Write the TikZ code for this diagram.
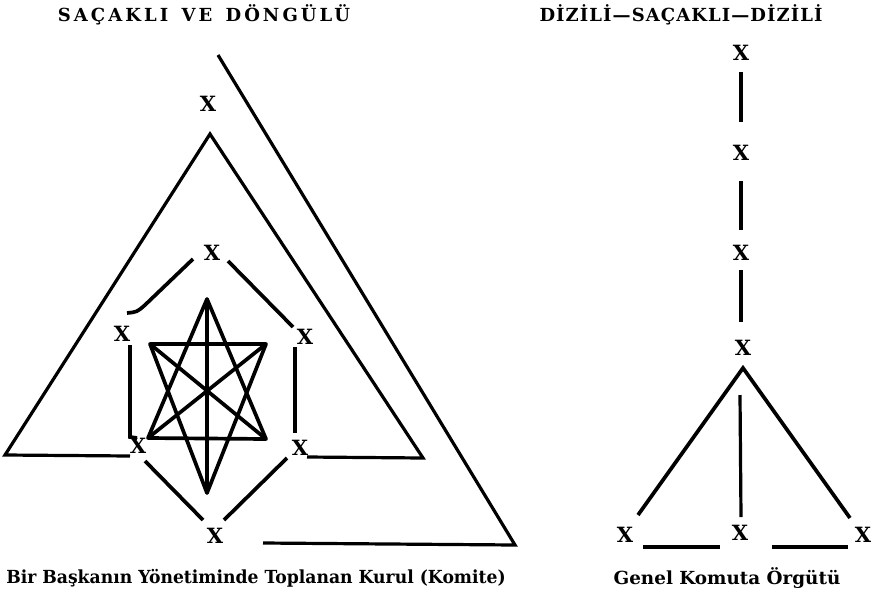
\documentclass[tikz,border=0pt]{standalone}
\usepackage{fontspec}
\setmainfont{DejaVu Serif}
\begin{document}
\begin{tikzpicture}[x=1pt,y=-1pt,
  ln/.style={line width=3.7pt},
  thin/.style={line width=3.2pt},
  xn/.style={font=\bfseries\fontsize{21}{21}\selectfont, inner sep=0pt, anchor=center},
  ttl/.style={font=\bfseries\fontsize{18}{18}\selectfont, inner sep=0pt},
  lbl/.style={font=\bfseries\fontsize{18}{19}\selectfont, inner sep=0pt}]
\useasboundingbox (0,0) rectangle (877,597);
% titles
\node[ttl] (t1) at (204,15) {\addfontfeature{LetterSpace=17}SAÇAKLI\hspace{4pt} VE\hspace{4pt} DÖNGÜLÜ};
\node[ttl] (t2) at (681,15) {\addfontfeature{LetterSpace=6}DİZİLİ—SAÇAKLI—DİZİLİ};
\node[lbl] (l1) at (256,578) {\addfontfeature{FakeStretch=0.955}Bir Başkanın Yönetiminde Toplanan Kurul (Komite)};
\node[lbl] (l2) at (727,578) {\addfontfeature{FakeStretch=1.02}Genel Komuta Örgütü};
% left figure: outer and triangle
\coordinate (o1) at (218,55);
\coordinate (o2) at (515,545);
\coordinate (o3) at (263,543);
\draw[thin] (o1) -- (o2) -- (o3);
\node[xn] (xtop) at (208,104) {X};
\coordinate (ta) at (210,134);
\coordinate (tbl) at (5,455);
\coordinate (tbr) at (423,458);
\coordinate (tl1) at (130,456);
\coordinate (tr1) at (307,457);
\draw[thin] (tl1) -- (tbl) -- (ta) -- (tbr) -- (tr1);
% ring
\node[xn] (xT) at (212,253) {X};
\node[xn] (xUL) at (122,334) {X};
\node[xn] (xUR) at (305,337) {X};
\node[xn] (xLL) at (138,446) {X};
\node[xn] (xLR) at (300,448) {X};
\node[xn] (xB) at (215,536) {X};
\coordinate (r1) at (193,259); \coordinate (r2) at (145,305); \coordinate (r3) at (127,313);
\draw[ln] (r1) -- (r2) .. controls (137,312) .. (r3);
\coordinate (r4) at (228,261); \coordinate (r5) at (293,327);
\draw[ln] (r4) -- (r5);
\coordinate (r6) at (130,345); \coordinate (r7) at (130,437); \coordinate (r8) at (137,438);
\draw[ln] (r6) -- (r7) -- (r8);
\coordinate (r9) at (295,347); \coordinate (r10) at (295,433);
\draw[ln] (r9) -- (r10);
\coordinate (r11) at (145,461); \coordinate (r12) at (203,520);
\draw[ln] (r11) -- (r12);
\coordinate (r13) at (224,520); \coordinate (r14) at (287,458);
\draw[ln] (r13) -- (r14);
% star
\coordinate (sT) at (207,299);
\coordinate (sB) at (207,493);
\coordinate (sTL) at (150,344);
\coordinate (sTR) at (266,344);
\coordinate (sBL) at (148,438);
\coordinate (sBR) at (266,439);
\draw[ln, line join=round] (sT) -- (sBL) -- (sBR) -- cycle;
\draw[ln, line join=round] (sB) -- (sTL) -- (sTR) -- cycle;
\draw[ln] (sTL) -- (sBR);
\draw[ln] (sTR) -- (sBL);
\draw[ln] (sT) -- (sB);
% right figure
\node[xn] (y1) at (741,53) {X};
\node[xn] (y2) at (741,153) {X};
\node[xn] (y3) at (741,253) {X};
\node[xn] (y4) at (743,348) {X};
\node[xn] (b1) at (625,535) {X};
\node[xn] (b2) at (740,533) {X};
\node[xn] (b3) at (863,535) {X};
\coordinate (v1a) at (741,72); \coordinate (v1b) at (741,122);
\coordinate (v2a) at (741,181); \coordinate (v2b) at (741,230);
\coordinate (v3a) at (741,270); \coordinate (v3b) at (741,322);
\draw[thin] (v1a) -- (v1b);
\draw[thin] (v2a) -- (v2b);
\draw[thin] (v3a) -- (v3b);
\coordinate (ap) at (743,368);
\coordinate (lg1) at (638,515);
\coordinate (lg2) at (850,518);
\draw[ln] (lg1) -- (ap) -- (lg2);
\coordinate (cv1) at (740,395); \coordinate (cv2) at (741,517);
\draw[thin] (cv1) -- (cv2);
\coordinate (h1) at (643,547); \coordinate (h2) at (720,547);
\coordinate (h3) at (772,547); \coordinate (h4) at (848,547);
\draw[thin] (h1) -- (h2);
\draw[thin] (h3) -- (h4);
\end{tikzpicture}
\end{document}
